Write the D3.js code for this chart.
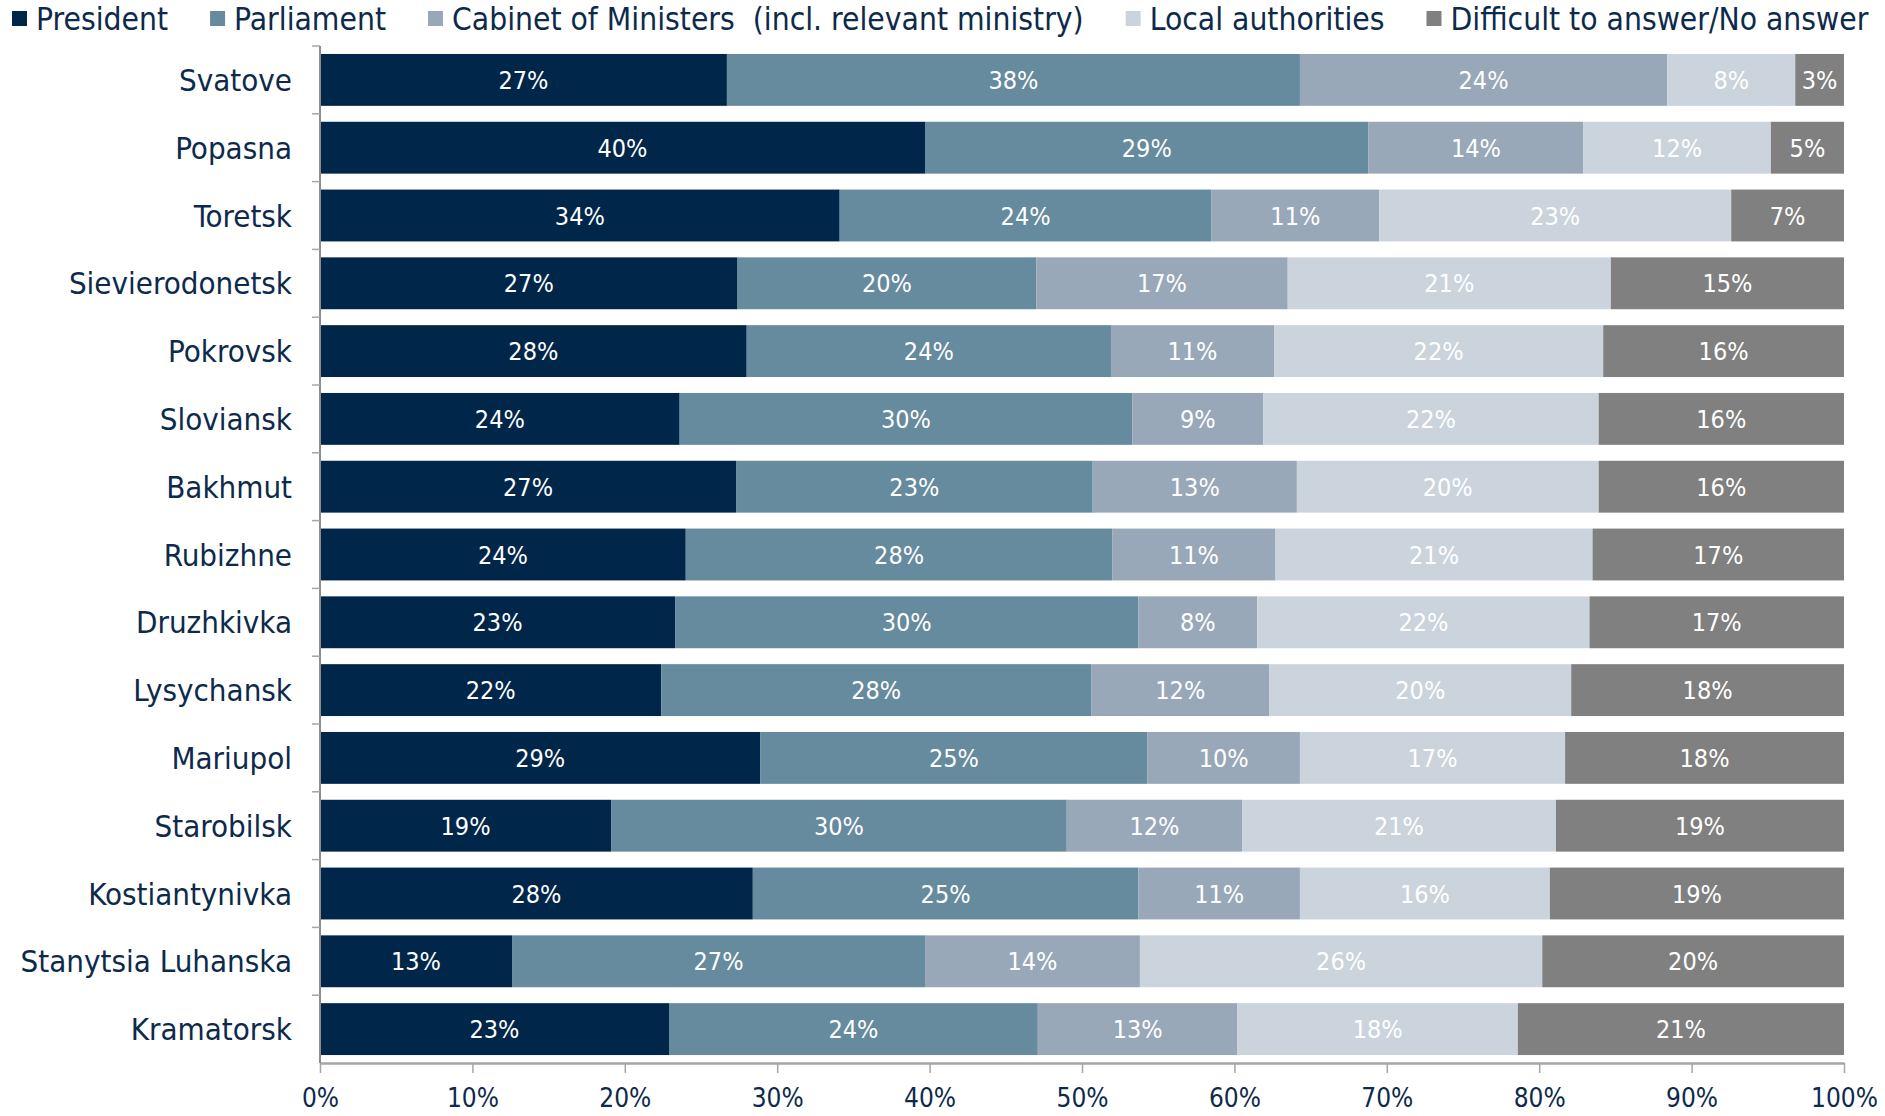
<html>

<head>
    <meta charset="utf-8">
    <title>Stacked bars - trust by city</title>
    <style>
        body { margin: 0; background: #fff; }
        text { font-family: "DejaVu Sans Condensed", "DejaVu Sans", sans-serif; font-stretch: condensed; }
    </style>
</head>

<body>
    <script src="https://cdn.jsdelivr.net/npm/d3@7"></script>
    <script>

        var width = 1885;
        var height = 1116;

        // categories (top to bottom)
        var cities = ["Svatove", "Popasna", "Toretsk", "Sievierodonetsk", "Pokrovsk", "Sloviansk", "Bakhmut",
            "Rubizhne", "Druzhkivka", "Lysychansk", "Mariupol", "Starobilsk", "Kostiantynivka",
            "Stanytsia Luhanska", "Kramatorsk"];

        var seriesNames = ["President", "Parliament", "Cabinet of Ministers  (incl. relevant ministry)",
            "Local authorities", "Difficult to answer/No answer"];
        var seriesColors = ["#00264a", "#668a9e", "#98a8b8", "#cbd4dc", "#808080"];

        // series values, % (one per city, same order as cities)
        var president  = [26.7, 39.7, 34.1, 27.4, 28.0, 23.6, 27.3, 24.0, 23.3, 22.4, 28.9, 19.1, 28.4, 12.6, 22.9];
        var parliament = [37.6, 29.1, 24.4, 19.6, 23.9, 29.7, 23.4, 28.0, 30.4, 28.2, 25.4, 29.9, 25.3, 27.1, 24.2];
        var cabinet    = [24.1, 14.1, 11.0, 16.5, 10.7,  8.6, 13.4, 10.7,  7.8, 11.7, 10.0, 11.5, 10.6, 14.1, 13.1];
        var local      = [ 8.4, 12.3, 23.1, 21.2, 21.6, 22.0, 19.8, 20.8, 21.8, 19.8, 17.4, 20.6, 16.4, 26.4, 18.4];
        var noAnswer   = [ 3.2,  4.8,  7.4, 15.3, 15.8, 16.1, 16.1, 16.5, 16.7, 17.9, 18.3, 18.9, 19.3, 19.8, 21.4];

        var xTicks = [0, 10, 20, 30, 40, 50, 60, 70, 80, 90, 100];

        var keys = ["president", "parliament", "cabinet", "local", "noAnswer"];
        var table = cities.map(function (c, i) {
            return {
                city: c, president: president[i], parliament: parliament[i], cabinet: cabinet[i],
                local: local[i], noAnswer: noAnswer[i]
            };
        });

        var margin = { top: 46, right: 41, bottom: 53, left: 320 };
        var innerW = width - margin.left - margin.right;
        var innerH = height - margin.top - margin.bottom;

        var svg = d3.select("body")
            .append("svg")
            .attr("width", width)
            .attr("height", height);

        var g = svg.append("g").attr("transform", "translate(" + margin.left + "," + margin.top + ")");

        var x = d3.scaleLinear().domain([0, 100]).range([0, innerW]);
        var y = d3.scaleBand().domain(cities).range([0, innerH])
            .paddingInner(0.235).paddingOuter(0.1175);
        var color = d3.scaleOrdinal().domain(keys).range(seriesColors);

        var stacked = d3.stack().keys(keys)(table);

        // bars
        var layer = g.selectAll("g.layer")
            .data(stacked)
            .enter()
            .append("g")
            .attr("class", "layer")
            .attr("fill", d => color(d.key));

        layer.selectAll("rect")
            .data(d => d)
            .enter()
            .append("rect")
            .attr("x", d => x(d[0]))
            .attr("y", d => y(d.data.city))
            .attr("width", d => x(d[1]) - x(d[0]))
            .attr("height", y.bandwidth());

        // value labels
        layer.selectAll("text")
            .data(d => d.map(v => ({ v: v, key: d.key })))
            .enter()
            .append("text")
            .attr("x", d => (x(d.v[0]) + x(d.v[1])) / 2)
            .attr("y", d => y(d.v.data.city) + y.bandwidth() / 2)
            .attr("dy", "0.36em")
            .attr("text-anchor", "middle")
            .attr("fill", "#ffffff")
            .style("font-size", "25px")
            .text(d => Math.round(d.v.data[d.key]) + "%");

        // x axis
        var xAxis = g.append("g")
            .attr("transform", "translate(0," + innerH + ")")
            .call(d3.axisBottom(x).tickValues(xTicks).tickFormat(d => d + "%")
                .tickSize(10).tickPadding(16).tickSizeOuter(0));
        xAxis.select(".domain").attr("stroke", "#a6a6a6").attr("stroke-width", 2.5);
        xAxis.selectAll(".tick line").attr("stroke", "#a6a6a6").attr("stroke-width", 1.5);
        xAxis.selectAll(".tick text")
            .attr("fill", "#0d2a4c")
            .style("font-size", "26px");

        // y axis: line + ticks at category boundaries
        var yAxis = g.append("g");
        yAxis.append("line")
            .attr("x1", 0).attr("x2", 0)
            .attr("y1", 0).attr("y2", innerH)
            .attr("stroke", "#8c8c8c").attr("stroke-width", 2);
        yAxis.selectAll("line.tick")
            .data(d3.range(cities.length))
            .enter()
            .append("line")
            .attr("class", "tick")
            .attr("x1", -8).attr("x2", 0)
            .attr("y1", i => y.step() * i)
            .attr("y2", i => y.step() * i)
            .attr("stroke", "#a6a6a6").attr("stroke-width", 1.5);
        yAxis.selectAll("text")
            .data(cities)
            .enter()
            .append("text")
            .attr("x", -28)
            .attr("y", d => y(d) + y.bandwidth() / 2)
            .attr("dy", "0.36em")
            .attr("text-anchor", "end")
            .attr("fill", "#0d2a4c")
            .style("font-size", "31px")
            .text(d => d);

        // legend
        var legend = svg.append("g").attr("transform", "translate(12,19)");
        var lx = 0;
        seriesNames.forEach(function (name, i) {
            var item = legend.append("g").attr("transform", "translate(" + lx + ",0)");
            item.append("rect")
                .attr("x", 0).attr("y", -8)
                .attr("width", 15).attr("height", 15)
                .attr("fill", seriesColors[i]);
            var t = item.append("text")
                .attr("x", 24)
                .attr("dy", "0.36em")
                .attr("fill", "#0d2a4c")
                .attr("xml:space", "preserve")
                .style("white-space", "pre")
                .style("font-size", "31.5px")
                .text(name);
            lx += 24 + t.node().getComputedTextLength() + 42;
        });
    </script>
</body>

</html>
